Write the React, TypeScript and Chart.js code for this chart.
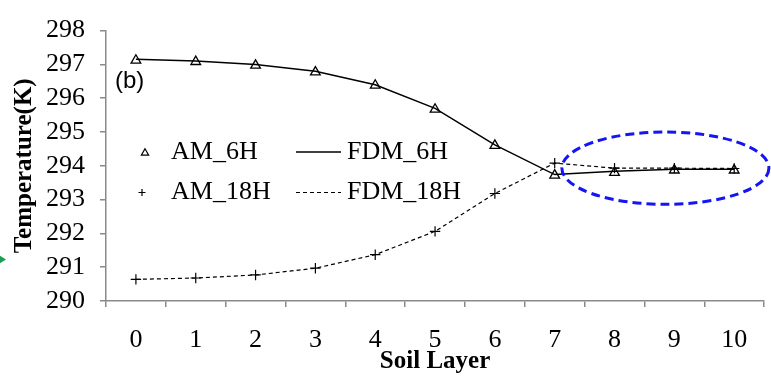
import React, { useEffect, useRef } from 'react';
import { Chart, registerables } from 'chart.js';

Chart.register(...registerables);

// Soil layers along the x axis
const layers = ['0', '1', '2', '3', '4', '5', '6', '7', '8', '9', '10'];

// Temperature (K) per layer
const am6h = [297.12, 297.08, 296.97, 296.77, 296.38, 295.67, 294.6, 293.72, 293.8, 293.87, 293.87];
const fdm6h = [297.15, 297.1, 297.0, 296.8, 296.4, 295.7, 294.62, 293.74, 293.84, 293.9, 293.9];
const am18h = [290.64, 290.68, 290.77, 290.97, 291.37, 292.06, 293.18, 294.08, 293.93, 293.93, 293.92];
const fdm18h = [290.64, 290.68, 290.77, 290.97, 291.37, 292.06, 293.18, 294.08, 293.93, 293.93, 293.92];

// Y axis tick values
const tempTicks = [290, 291, 292, 293, 294, 295, 296, 297, 298];

// Highlight ellipse around the deep layers (centre in layer / kelvin units, radii likewise)
const ringCentre = { layer: 8.85, temp: 293.93 };
const ringRadius = { layers: 1.73, temp: 1.07 };

const SERIF = '"Liberation Serif", "Times New Roman", serif';
const SANS = '"Liberation Sans", Arial, sans-serif';
const AXIS_GREY = '#8a8a8a';

function drawTriangle(ctx: CanvasRenderingContext2D, x: number, y: number, r: number) {
  ctx.beginPath();
  for (let i = 0; i < 3; i++) {
    const a = (i * 2 * Math.PI) / 3;
    const px = x + Math.sin(a) * r;
    const py = y - Math.cos(a) * r;
    if (i === 0) ctx.moveTo(px, py);
    else ctx.lineTo(px, py);
  }
  ctx.closePath();
  ctx.stroke();
}

function drawCross(ctx: CanvasRenderingContext2D, x: number, y: number, r: number) {
  ctx.beginPath();
  ctx.moveTo(x - r, y);
  ctx.lineTo(x + r, y);
  ctx.moveTo(x, y - r);
  ctx.lineTo(x, y + r);
  ctx.stroke();
}

const extrasPlugin = {
  id: 'extras',
  afterDraw(chart: any) {
    const { ctx } = chart;
    const xs = chart.scales.x;
    const ys = chart.scales.y;
    const ds = chart.data.datasets;

    ctx.save();

    // Panel tag
    ctx.fillStyle = '#000';
    ctx.font = `24px ${SANS}`;
    ctx.textAlign = 'left';
    ctx.textBaseline = 'middle';
    ctx.fillText('(b)', 115, 81);

    // Legend: two rows, markers on the left, lines on the right
    const rows = [
      { y: 152, marker: 0, line: 1, mx: 145 },
      { y: 192.5, marker: 2, line: 3, mx: 142 },
    ];
    ctx.font = `26px ${SERIF}`;
    for (const row of rows) {
      const md = ds[row.marker];
      const ld = ds[row.line];
      ctx.strokeStyle = '#000';
      ctx.lineWidth = 1.2;
      ctx.setLineDash([]);
      if (md.pointStyle === 'triangle') drawTriangle(ctx, row.mx, row.y + 1, 4.2);
      else drawCross(ctx, row.mx, row.y, 3.5);
      ctx.fillText(md.label, 171, row.y);

      ctx.lineWidth = ld.borderWidth;
      ctx.setLineDash(ld.borderDash || []);
      ctx.beginPath();
      ctx.moveTo(296, row.y);
      ctx.lineTo(341, row.y);
      ctx.stroke();
      ctx.setLineDash([]);
      ctx.fillText(ld.label, 347, row.y);
    }

    // Dashed ellipse around layers 7.5 - 10
    const cx = xs.getPixelForValue(ringCentre.layer);
    const cy = ys.getPixelForValue(ringCentre.temp);
    const step = xs.getPixelForValue(1) - xs.getPixelForValue(0);
    const rx = ringRadius.layers * step;
    const ry = Math.abs(ys.getPixelForValue(ringCentre.temp + ringRadius.temp) - cy);
    ctx.strokeStyle = '#1414f5';
    ctx.lineWidth = 3;
    ctx.setLineDash([9, 5]);
    ctx.beginPath();
    ctx.ellipse(cx, cy, rx, ry, 0, 0, Math.PI * 2);
    ctx.stroke();
    ctx.setLineDash([]);

    // Small green pointer at the left edge
    ctx.fillStyle = '#1aa050';
    ctx.beginPath();
    ctx.moveTo(-6, 252);
    ctx.lineTo(6, 259.5);
    ctx.lineTo(-6, 267);
    ctx.closePath();
    ctx.fill();

    ctx.restore();
  },
};

export default function App() {
  const canvasRef = useRef<HTMLCanvasElement | null>(null);

  useEffect(() => {
    const canvas = canvasRef.current;
    if (!canvas) return;

    const chart = new Chart(canvas, {
      type: 'line',
      data: {
        labels: layers,
        datasets: [
          {
            label: 'AM_6H',
            data: am6h,
            showLine: false,
            pointStyle: 'triangle',
            pointRadius: 5.6,
            pointBorderWidth: 1.3,
            borderColor: '#000',
            backgroundColor: 'rgba(0,0,0,0)',
            pointBackgroundColor: 'rgba(0,0,0,0)',
          },
          {
            label: 'FDM_6H',
            data: fdm6h,
            borderColor: '#000',
            borderWidth: 1.5,
            pointRadius: 0,
            fill: false,
            tension: 0,
          },
          {
            label: 'AM_18H',
            data: am18h,
            showLine: false,
            pointStyle: 'cross',
            pointRadius: 5.2,
            pointBorderWidth: 1.2,
            borderColor: '#000',
            backgroundColor: '#000',
          },
          {
            label: 'FDM_18H',
            data: fdm18h,
            borderColor: '#000',
            borderWidth: 1.2,
            borderDash: [4, 3],
            pointRadius: 0,
            fill: false,
            tension: 0,
          },
        ] as any,
      },
      options: {
        responsive: false,
        animation: false,
        devicePixelRatio: 1,
        layout: { padding: { top: 19, right: 5, left: 0, bottom: 0 } },
        plugins: {
          legend: { display: false },
          tooltip: { enabled: false },
        },
        scales: {
          x: {
            type: 'category',
            offset: true,
            grid: {
              offset: true,
              drawOnChartArea: false,
              drawTicks: true,
              tickLength: 6,
              color: AXIS_GREY,
              lineWidth: 1.5,
            },
            border: { color: AXIS_GREY, width: 1.5 },
            ticks: {
              color: '#000',
              font: { family: SERIF, size: 26 },
              padding: 18,
              maxRotation: 0,
              autoSkip: false,
            },
            title: {
              display: true,
              text: 'Soil Layer',
              color: '#000',
              font: { family: SERIF, size: 25, weight: 'bold' },
              padding: { top: 0, bottom: 0 },
            },
            afterFit: (s: any) => {
              s.height = 76;
            },
          },
          y: {
            min: tempTicks[0],
            max: tempTicks[tempTicks.length - 1],
            grid: {
              drawOnChartArea: false,
              drawTicks: true,
              tickLength: 6,
              color: AXIS_GREY,
              lineWidth: 1.5,
            },
            border: { color: AXIS_GREY, width: 1.5 },
            afterBuildTicks: (s: any) => {
              s.ticks = tempTicks.map((v) => ({ value: v }));
            },
            ticks: {
              color: '#000',
              font: { family: SERIF, size: 26 },
              padding: 15,
              autoSkip: false,
            },
            title: {
              display: true,
              text: 'Temperature(K)',
              color: '#000',
              font: { family: SERIF, size: 25, weight: 'bold' },
              padding: { top: 10, bottom: 0 },
            },
            afterFit: (s: any) => {
              s.width = 106;
            },
          },
        },
      } as any,
      plugins: [extrasPlugin],
    });

    return () => chart.destroy();
  }, []);

  return (
    <div style={{ position: 'absolute', left: 0, top: 0, width: 771, height: 377, background: '#fff' }}>
      <canvas ref={canvasRef} width={771} height={377} style={{ display: 'block' }} />
    </div>
  );
}
